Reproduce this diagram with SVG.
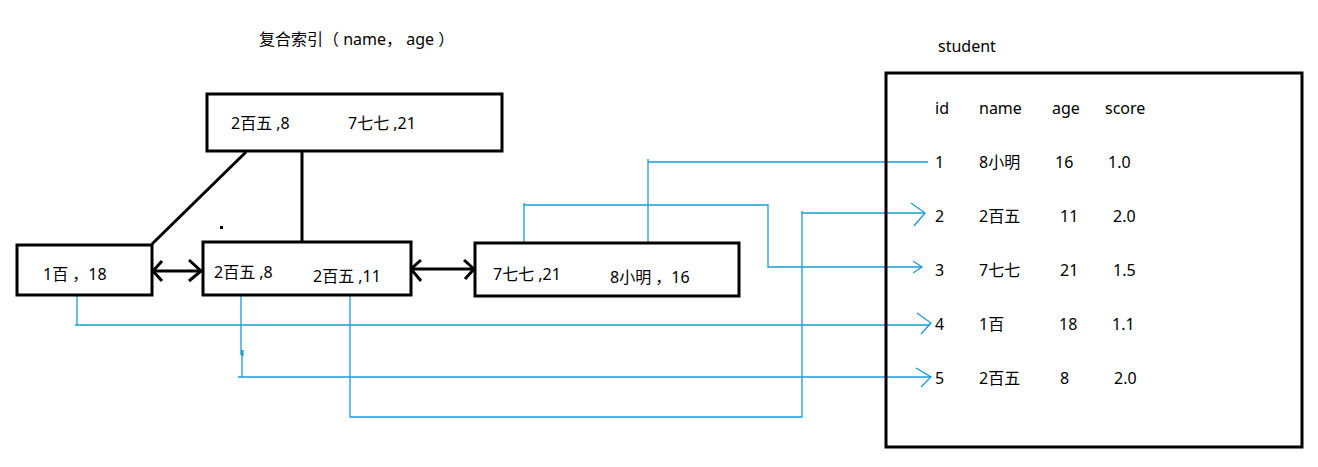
<svg xmlns="http://www.w3.org/2000/svg" width="1318" height="467" viewBox="0 0 1318 467">
<style>
text{font-family:"Noto Sans","Noto Sans CJK SC",sans-serif;fill:#000;}
.t{font-size:16px;}
.box{fill:#fff;stroke:#000;stroke-width:3;}
.frame{fill:none;stroke:#000;stroke-width:3;}
.blk{fill:none;stroke:#000;stroke-width:3;}
.blue{fill:none;stroke:#1a9ad9;stroke-width:1.3;}
</style>
<rect width="1318" height="467" fill="#fff"/>
<text x="259" y="45" font-size="16">复合索引（ name， age  ）</text>

<g id="connectors">
  <line class="blk" x1="246" y1="152" x2="152" y2="244"/>
  <line class="blk" x1="302" y1="151" x2="302" y2="241"/>
  <rect x="220" y="226" width="3" height="3" fill="#000"/>
  <line class="blk" x1="153" y1="271" x2="201" y2="271"/>
  <polyline class="blk" points="162,261 153,271 162,281"/>
  <polyline class="blk" points="189,260 201,271 189,281"/>
  <line class="blk" x1="411" y1="269" x2="474" y2="269"/>
  <polyline class="blk" points="421,260 411,269 421,281"/>
  <polyline class="blk" points="464,260 474,269 465,279"/>
  <polyline class="blue" points="648,252 648,159"/>
  <polyline class="blue" points="648,162 928,162"/>
  <polyline class="blue" points="524,255 524,203"/>
  <polyline class="blue" points="524,205 768,205 768,267 922,267"/>
  <polyline class="blue" points="913,261 922,267 913,273"/>
  <polyline class="blue" points="350,290 350,417 802,417 802,211"/>
  <polyline class="blue" points="802,213 925,213"/>
  <polyline class="blue" points="911,203 925,213 914,226"/>
  <polyline class="blue" points="77,296 77,325"/>
  <polyline class="blue" points="75,325 930,325"/>
  <polyline class="blue" points="917,313 931,323 921,334"/>
  <polyline class="blue" points="241,287 241,355"/>
  <line x1="242.5" y1="350" x2="242.5" y2="356" stroke="#1a9ad9" stroke-width="2"/>
  <polyline class="blue" points="242,350 242,377"/>
  <polyline class="blue" points="238,377 931,377"/>
  <polyline class="blue" points="916,368 931,377 921,387"/>
</g>

<g id="node-root">
  <rect class="box" x="207" y="94" width="295" height="57"/>
  <text class="t" x="231" y="129">2百五 ,8</text>
  <text class="t" x="348" y="129">7七七 ,21</text>
</g>
<g id="node-left">
  <rect class="box" x="17" y="245" width="135" height="50"/>
  <text class="t" x="43" y="280">1百 ，18</text>
</g>
<g id="node-middle">
  <rect class="box" x="203" y="242" width="208" height="53"/>
  <text class="t" x="214" y="278">2百五 ,8</text>
  <text class="t" x="313" y="282">2百五 ,11</text>
</g>
<g id="node-right">
  <rect class="box" x="475" y="243" width="264" height="53"/>
  <text class="t" x="493" y="280">7七七 ,21</text>
  <text class="t" x="610" y="283">8小明 ，16</text>
</g>

<g id="node-student">
  <text x="938" y="52" font-size="16">student</text>
  <rect class="frame" x="886" y="73" width="416" height="374"/>
  <g font-size="16">
    <text x="935" y="114">id</text>
    <text x="979" y="114">name</text>
    <text x="1052" y="114">age</text>
    <text x="1105" y="114">score</text>

    <text x="935" y="168">1</text>
    <text x="979" y="168">8小明</text>
    <text x="1055" y="168">16</text>
    <text x="1108" y="168">1.0</text>

    <text x="935" y="222">2</text>
    <text x="979" y="222">2百五</text>
    <text x="1060" y="222">11</text>
    <text x="1113" y="222">2.0</text>

    <text x="935" y="276">3</text>
    <text x="979" y="276">7七七</text>
    <text x="1060" y="276">21</text>
    <text x="1113" y="276">1.5</text>

    <text x="935" y="330">4</text>
    <text x="979" y="330">1百</text>
    <text x="1059" y="330">18</text>
    <text x="1112" y="330">1.1</text>

    <text x="935" y="384">5</text>
    <text x="979" y="384">2百五</text>
    <text x="1060" y="384">8</text>
    <text x="1114" y="384">2.0</text>
  </g>
</g>
</svg>
